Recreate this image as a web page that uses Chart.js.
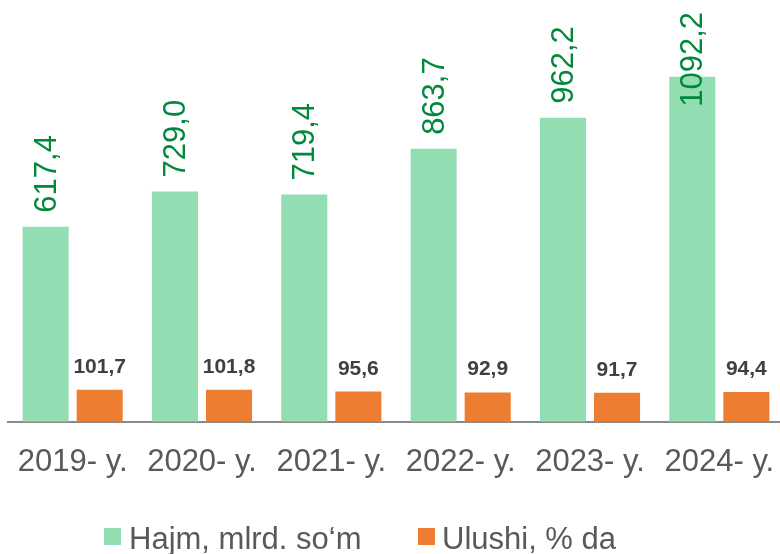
<!DOCTYPE html>
<html>
<head>
<meta charset="utf-8">
<script src="https://cdn.jsdelivr.net/npm/chart.js@4.4.0/dist/chart.umd.min.js"></script>
<style>
  html, body { margin: 0; padding: 0; background: #fff; overflow: hidden; }
  .clip { position: relative; width: 780px; height: 554px; overflow: hidden; }
  #grafik { position: absolute; left: 0; top: 0; }
  .legend { position: absolute; top: 523px; left: 104px; height: 31px; font: 31px "Liberation Sans", Arial, sans-serif; line-height: 31px; color: #595959; white-space: nowrap; }
  .legend span.box { position: absolute; top: 5px; width: 17px; height: 17px; }
  .legend span.txt { position: absolute; top: 0; }
</style>
</head>
<body>
<div class="clip">
  <canvas id="grafik" width="786" height="554"></canvas>
  <div class="legend">
    <span class="box" style="left:0; background:#93DDB3"></span>
    <span class="txt" style="left:25px">Hajm, mlrd. so‘m</span>
    <span class="box" style="left:314px; background:#ED7D31"></span>
    <span class="txt" style="left:338px">Ulushi, % da</span>
  </div>
</div>
<script>
const yillar = ['2019- y.', '2020- y.', '2021- y.', '2022- y.', '2023- y.', '2024- y.'];
const hajm = [617.4, 729.0, 719.4, 863.7, 962.2, 1092.2];
const ulushi = [101.7, 101.8, 95.6, 92.9, 91.7, 94.4];

const yashil = '#93DDB3';
const sariq = '#ED7D31';

function vergul(v) {
    return v.toFixed(1).replace('.', ',');
}

// labels over the bars
const yozuvlar = {
    id: 'yozuvlar',
    afterDatasetsDraw(chart) {
        const ctx = chart.ctx;
        ctx.save();
        // green: rotated, reading upwards
        chart.getDatasetMeta(0).data.forEach((bar, i) => {
            const txt = vergul(hajm[i]);
            ctx.font = '31px "Liberation Sans", Arial, sans-serif';
            const w = ctx.measureText(txt).width;
            let y0 = bar.y - 14;
            if (y0 - w < 12) y0 = 12 + w;
            ctx.save();
            ctx.translate(bar.x + 10, y0);
            ctx.rotate(-Math.PI / 2);
            ctx.fillStyle = '#00883C';
            ctx.textAlign = 'left';
            ctx.textBaseline = 'alphabetic';
            ctx.fillText(txt, 0, 0);
            ctx.restore();
        });
        // orange: bold, horizontal
        chart.getDatasetMeta(1).data.forEach((bar, i) => {
            ctx.font = 'bold 21px "Liberation Sans", Arial, sans-serif';
            ctx.fillStyle = '#404040';
            ctx.textAlign = 'center';
            ctx.textBaseline = 'alphabetic';
            ctx.fillText(vergul(ulushi[i]), bar.x, bar.y - 17);
        });
        ctx.restore();
    }
};

const ctxGrafik = document.getElementById('grafik').getContext('2d');
const grafik = new Chart(ctxGrafik, {
    type: 'bar',
    data: {
        labels: yillar,
        datasets: [{
            label: 'Hajm, mlrd. so‘m',
            data: hajm,
            backgroundColor: yashil,
            borderWidth: 0,
            categoryPercentage: 0.836,
            barPercentage: 0.852
        }, {
            label: 'Ulushi, % da',
            data: ulushi,
            backgroundColor: sariq,
            borderWidth: 0,
            categoryPercentage: 0.836,
            barPercentage: 0.852
        }]
    },
    options: {
        responsive: false,
        animation: false,
        layout: { padding: { left: 8, right: 2, top: 11, bottom: 73 } },
        plugins: {
            legend: { display: false },
            tooltip: { enabled: false }
        },
        scales: {
            x: {
                grid: { display: true, drawOnChartArea: false, drawTicks: true, tickLength: 22, color: 'rgba(0,0,0,0)' },
                border: { display: true, color: '#898989', width: 2 },
                ticks: {
                    color: '#595959',
                    font: { family: '"Liberation Sans", Arial, sans-serif', size: 31 },
                    padding: 0,
                    maxRotation: 0,
                    autoSkip: false
                }
            },
            y: {
                display: false,
                min: 0,
                max: 1300
            }
        }
    },
    plugins: [yozuvlar]
});
</script>
</body>
</html>
